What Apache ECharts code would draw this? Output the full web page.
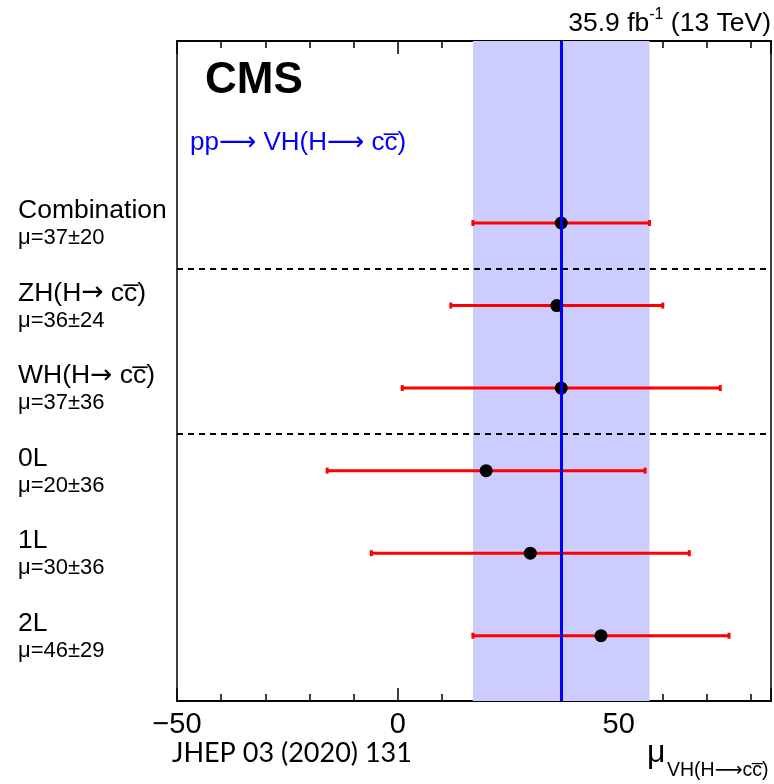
<!DOCTYPE html>
<html>
<head>
<meta charset="utf-8">
<script src="https://cdn.jsdelivr.net/npm/echarts@6/dist/echarts.min.js"></script>
<style>
  html, body { margin: 0; padding: 0; background: #fff; }
  #chart { width: 774px; height: 784px; }
</style>
</head>
<body>
<div id="chart"></div>
<script>
// Signal-strength measurements per channel
const channels = ['Combination', 'ZH(H\u2192 cc\u0305)', 'WH(H\u2192 cc\u0305)', '0L', '1L', '2L'];
const muValues = [37, 36, 37, 20, 30, 46];
const muErrors = [20, 24, 36, 36, 36, 29];
// vertical slot of each channel (top to bottom)
const rowSlots = [6, 5, 4, 3, 2, 1];
// dashed separators between groups
const groupSeparators = [5.45, 3.45];
// x-axis tick labels
const xTickLabels = [-50, 0, 50];

const SANS = 'Liberation Sans, DejaVu Sans, Arial, sans-serif';

// arrows are set in DejaVu Sans, the rest in the main face
function withArrows(s) {
  return s.replace(/\u2192/g, '{ar|\u2192}');
}

const dotData = muValues.map((m, i) => [m, rowSlots[i]]);
const barData = muValues.map((m, i) => [m - muErrors[i], m + muErrors[i], rowSlots[i]]);
const labelData = channels.map((c, i) => [0, rowSlots[i], i]);

const combMu = muValues[0];
const combErr = muErrors[0];

const chart = echarts.init(document.getElementById('chart'), null, { renderer: 'canvas' });

function xAxisDef(position, interval, tickLen, showLabels) {
  return {
    type: 'value',
    position: position,
    min: -50,
    max: 84.5,
    interval: interval,
    axisLine: { show: true, onZero: false, lineStyle: { color: '#000', width: 1.5 } },
    axisTick: { show: true, inside: true, length: tickLen, lineStyle: { color: '#000', width: 1.5 } },
    splitLine: { show: false },
    axisLabel: {
      show: showLabels,
      margin: 9,
      fontFamily: SANS,
      fontSize: 29,
      color: '#000',
      formatter: function (v) {
        if (xTickLabels.indexOf(v) < 0) return '';
        return String(v).replace('-', '\u2212');
      }
    }
  };
}

const option = {
  animation: false,
  backgroundColor: '#fff',
  grid: {
    left: 177, right: 2.5, top: 41, bottom: 83,
    show: true, borderColor: '#000', borderWidth: 1.5, backgroundColor: 'transparent'
  },
  xAxis: [
    xAxisDef('bottom', 10, 7, true),
    xAxisDef('bottom', 50, 13, false),
    xAxisDef('top', 10, 7, false),
    xAxisDef('top', 50, 13, false)
  ],
  yAxis: {
    type: 'value', min: 0.209, max: 8.205, show: false,
    splitLine: { show: false }
  },
  series: [
    {
      // combined uncertainty band and central value
      type: 'line',
      data: [],
      z: 1,
      silent: true,
      markArea: {
        silent: true,
        itemStyle: { color: '#ccccff', opacity: 1 },
        data: [[{ xAxis: combMu - combErr }, { xAxis: combMu + combErr }]]
      },
      markLine: {
        silent: true,
        symbol: 'none',
        label: { show: false },
        lineStyle: { color: '#0000ff', width: 3, type: 'solid' },
        data: [{ xAxis: combMu }]
      }
    },
    {
      // group separators
      type: 'line',
      data: [],
      z: 2,
      silent: true,
      markLine: {
        silent: true,
        symbol: 'none',
        label: { show: false },
        lineStyle: { color: '#000', width: 2, type: [6, 5] },
        data: groupSeparators.map(v => ({ yAxis: v }))
      }
    },
    {
      // uncertainty bars
      type: 'custom',
      z: 3,
      silent: true,
      data: barData,
      encode: { x: [0, 1], y: 2 },
      renderItem: function (params, api) {
        const lo = api.coord([api.value(0), api.value(2)]);
        const hi = api.coord([api.value(1), api.value(2)]);
        const capH = 6, capW = 3;
        return {
          type: 'group',
          children: [
            { type: 'line', shape: { x1: lo[0], y1: lo[1], x2: hi[0], y2: hi[1] },
              style: { stroke: '#ff0000', lineWidth: 3 } },
            { type: 'rect', shape: { x: lo[0] - capW / 2, y: lo[1] - capH / 2, width: capW, height: capH },
              style: { fill: '#ff0000' } },
            { type: 'rect', shape: { x: hi[0] - capW / 2, y: hi[1] - capH / 2, width: capW, height: capH },
              style: { fill: '#ff0000' } }
          ]
        };
      }
    },
    {
      // central values
      type: 'scatter',
      z: 4,
      silent: true,
      symbol: 'circle',
      symbolSize: 13,
      itemStyle: { color: '#000', opacity: 1 },
      data: dotData
    },
    {
      // channel names and results on the left
      type: 'custom',
      z: 5,
      silent: true,
      clip: false,
      data: labelData,
      encode: { y: 1 },
      renderItem: function (params, api) {
        const i = api.value(2);
        const p = api.coord([-50, api.value(1)]);
        const x = params.coordSys.x - 159;
        return {
          type: 'group',
          children: [
            { type: 'text', x: x, y: p[1] - 12,
              style: { text: withArrows(channels[i]), fontFamily: SANS, fontSize: 26.5, fill: '#000',
                       textAlign: 'left', textVerticalAlign: 'middle',
                       rich: { ar: { fontFamily: 'DejaVu Sans', fontSize: 26.5, fill: '#000' } } } },
            { type: 'text', x: x, y: p[1] + 15,
              style: { text: '\u03bc=' + muValues[i] + '\u00b1' + muErrors[i], fontFamily: SANS,
                       fontSize: 22, fill: '#000', textAlign: 'left', textVerticalAlign: 'middle' } }
          ]
        };
      }
    }
  ],
  graphic: [
    {
      type: 'text', left: 205, top: 59,
      style: { text: 'CMS', fontFamily: SANS, fontWeight: 'bold', fontSize: 44, fill: '#000' }
    },
    {
      type: 'text', left: 190, top: 130,
      style: { text: 'pp\u27F6 VH(H\u27F6 cc\u0305)', fontFamily: SANS, fontSize: 26, fill: '#0000ff' }
    },
    {
      type: 'text', right: 3, top: 7,
      style: {
        text: '{a|35.9 fb}{s|-1}{a| (13 TeV)}',
        rich: {
          a: { fontFamily: SANS, fontSize: 26.5, fill: '#000', color: '#000', lineHeight: 30, verticalAlign: 'bottom' },
          s: { fontFamily: SANS, fontSize: 16, fill: '#000', color: '#000', lineHeight: 30, verticalAlign: 'top' }
        }
      }
    },
    {
      type: 'text', left: 172, top: 740,
      style: { text: 'JHEP 03 (2020) 131', fontFamily: 'Lato, sans-serif', fontSize: 27, fill: '#000' }
    },
    {
      type: 'text', left: 647, top: 737,
      style: { text: '\u03bc', fontFamily: SANS, fontSize: 32, fill: '#000' }
    },
    {
      type: 'text', left: 667, top: 761,
      style: { text: 'VH(H\u27F6cc\u0305)', fontFamily: SANS, fontSize: 19.5, fill: '#000' }
    }
  ]
};

chart.setOption(option);
</script>
</body>
</html>
